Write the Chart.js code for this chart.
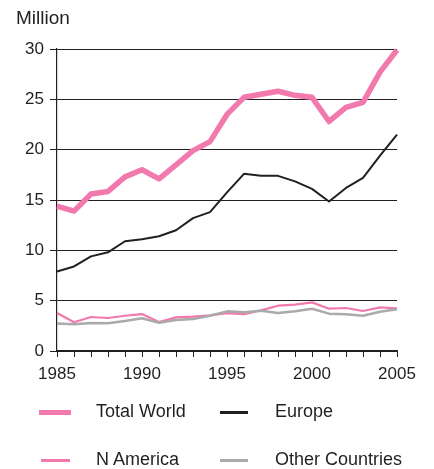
<!DOCTYPE html>
<html>
<head>
<meta charset="utf-8">
<script src="https://cdn.jsdelivr.net/npm/chart.js@4/dist/chart.umd.min.js"></script>
<style>
  html, body { margin: 0; padding: 0; background: #fff; }
  #wrap { position: relative; width: 434px; height: 469px; font-family: "Liberation Sans", Arial, sans-serif; color: #231f20; }
  canvas { position: absolute; left: 0; top: 0; }
  .unit { position: absolute; left: 16px; top: 7px; font-size: 19px; }
  .lg { position: absolute; font-size: 18px; line-height: 20px; white-space: nowrap; }
  .sw { position: absolute; }
</style>
</head>
<body>
<div id="wrap">
  <canvas id="c" width="434" height="469"></canvas>
  <div class="unit">Million</div>
  <div class="sw" style="left:39px; top:410px; width:32px; height:5px; background:#f279ad;"></div>
  <div class="lg" style="left:96px; top:401px;">Total World</div>
  <div class="sw" style="left:220px; top:411px; width:28px; height:2.5px; background:#231f20;"></div>
  <div class="lg" style="left:275px; top:401px;">Europe</div>
  <div class="sw" style="left:41px; top:459px; width:29px; height:2.5px; background:#f279ad;"></div>
  <div class="lg" style="left:96px; top:449px;">N America</div>
  <div class="sw" style="left:220px; top:459px; width:28px; height:3px; background:#aaaaaa;"></div>
  <div class="lg" style="left:275px; top:449px;">Other Countries</div>
</div>
<script>
const years = ["1985","1986","1987","1988","1989","1990","1991","1992","1993","1994","1995","1996","1997","1998","1999","2000","2001","2002","2003","2004","2005"];
const totalWorld = [14.4, 13.9, 15.6, 15.85, 17.3, 18.0, 17.1, 18.5, 19.9, 20.8, 23.5, 25.2, 25.5, 25.8, 25.4, 25.2, 22.8, 24.2, 24.7, 27.7, 29.9];
const europe = [7.9, 8.4, 9.4, 9.8, 10.9, 11.1, 11.4, 12.0, 13.2, 13.8, 15.75, 17.6, 17.4, 17.4, 16.85, 16.1, 14.85, 16.2, 17.2, 19.4, 21.5];
const nAmerica = [3.77, 2.85, 3.38, 3.28, 3.5, 3.67, 2.88, 3.34, 3.41, 3.54, 3.77, 3.67, 4.04, 4.5, 4.6, 4.83, 4.2, 4.27, 3.97, 4.34, 4.24];
const otherCountries = [2.72, 2.65, 2.78, 2.75, 2.98, 3.25, 2.81, 3.08, 3.18, 3.51, 3.94, 3.84, 4.0, 3.77, 3.94, 4.2, 3.71, 3.64, 3.51, 3.9, 4.14];
const yTicks = [0, 5, 10, 15, 20, 25, 30];
const xLabelYears = ["1985","1990","1995","2000","2005"];

const PINK = '#f279ad', DARK = '#231f20', GREY = '#aaaaaa';
const FONT = { family: '"Liberation Sans", Arial, sans-serif', size: 17 };

new Chart(document.getElementById('c'), {
  type: 'line',
  data: {
    labels: years,
    datasets: [
      { label: 'Other Countries', data: otherCountries, borderColor: GREY, borderWidth: 2.5 },
      { label: 'N America', data: nAmerica, borderColor: PINK, borderWidth: 2.2 },
      { label: 'Europe', data: europe, borderColor: DARK, borderWidth: 2 },
      { label: 'Total World', data: totalWorld, borderColor: PINK, borderWidth: 5.5 }
    ].map(d => Object.assign(d, { pointRadius: 0, tension: 0, fill: false, clip: false, borderJoinStyle: 'round', borderCapStyle: 'butt' }))
  },
  options: {
    responsive: false,
    animation: false,
    events: [],
    layout: { padding: { left: 0, top: 49, right: 37, bottom: 78 } },
    plugins: { legend: { display: false }, tooltip: { enabled: false }, title: { display: false } },
    scales: {
      x: {
        type: 'category',
        offset: false,
        afterFit: s => { s.height = 40; },
        grid: { display: true, drawOnChartArea: false, drawTicks: true, tickLength: 6, color: DARK, lineWidth: 1 },
        border: { display: true, color: DARK, width: 1.2 },
        ticks: {
          autoSkip: false, maxRotation: 0, minRotation: 0, padding: 7, color: DARK, font: FONT,
          callback: function (v) { const l = this.getLabelForValue(v); return xLabelYears.includes(l) ? l : ''; }
        }
      },
      y: {
        min: yTicks[0], max: yTicks[yTicks.length - 1],
        afterFit: s => { s.width = 57; },
        afterBuildTicks: s => { s.ticks = yTicks.map(v => ({ value: v })); },
        grid: { display: true, drawTicks: true, tickLength: 7, color: DARK, lineWidth: 1 },
        border: { display: true, color: DARK, width: 1.2 },
        ticks: { padding: 6, color: DARK, font: FONT }
      }
    }
  }
});
</script>
</body>
</html>
